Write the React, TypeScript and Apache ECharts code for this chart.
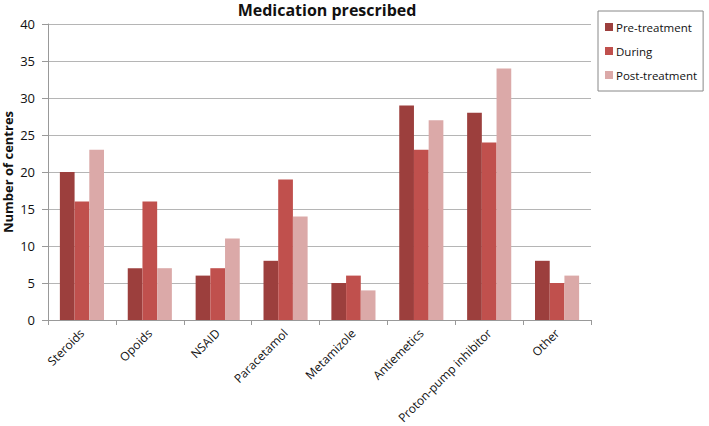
import React, { useEffect, useRef } from "react";
import * as echarts from "echarts";

const categories = ["Steroids", "Opoids", "NSAID", "Paracetamol", "Metamizole", "Antiemetics", "Proton-pump inhibitor", "Other"];
const preTreatment = [20, 7, 6, 8, 5, 29, 28, 8];
const during = [16, 16, 7, 19, 6, 23, 24, 5];
const postTreatment = [23, 7, 11, 14, 4, 27, 34, 6];
const seriesNames = ["Pre-treatment", "During", "Post-treatment"];
const colors = ["#9c3f3d", "#c0504d", "#dba9a8"];

const FONT = "Open Sans";

export default function App() {
  const ref = useRef<HTMLDivElement>(null);
  useEffect(() => {
    const chart = echarts.init(ref.current!, undefined, { renderer: "svg" });
    const data = [preTreatment, during, postTreatment];
    chart.setOption({
      animation: false,
      textStyle: { fontFamily: FONT },
      title: {
        text: "Medication prescribed",
        left: 322,
        textAlign: "center",
        top: -3,
        textStyle: { fontFamily: FONT, fontWeight: "bold", fontSize: 16, color: "#111" },
      },
      legend: {
        orient: "vertical",
        left: 598,
        top: 11,
        padding: [10, 6, 10, 7],
        itemGap: 12,
        itemWidth: 8,
        itemHeight: 8,
        icon: "rect",
        borderColor: "#888",
        borderWidth: 1,
        textStyle: { fontFamily: FONT, fontSize: 11.5, color: "#111", padding: [0, 0, 0, -2] },
        data: seriesNames,
      },
      grid: { left: 48, right: 118, top: 24, bottom: 106, containLabel: false, outerBoundsMode: "none" },
      xAxis: {
        type: "category",
        data: categories,
        axisLine: { lineStyle: { color: "#999" } },
        axisTick: { show: true, alignWithLabel: false, length: 5, lineStyle: { color: "#999" } },
        axisLabel: { rotate: 45, fontFamily: FONT, fontSize: 12, color: "#111", margin: 11, interval: 0 },
      },
      yAxis: {
        type: "value",
        min: 0,
        max: 40,
        interval: 5,
        name: "Number of centres",
        nameLocation: "middle",
        nameGap: 34,
        nameMoveOverlap: false,
        nameRotate: 90,
        nameTextStyle: { fontFamily: FONT, fontWeight: "bold", fontSize: 13, color: "#111" },
        axisLine: { show: true, lineStyle: { color: "#999" } },
        axisTick: { show: true, length: 6, lineStyle: { color: "#999" } },
        axisLabel: { fontFamily: FONT, fontSize: 13, color: "#111", margin: 13 },
        splitLine: { lineStyle: { color: "#b5b5b5" } },
      },
      series: seriesNames.map((name, i) => ({
        name,
        type: "bar",
        data: data[i],
        barGap: "0%",
        barCategoryGap: "35%",
        itemStyle: { color: colors[i] },
      })),
    });
    return () => chart.dispose();
  }, []);
  return <div ref={ref} style={{ width: 709, height: 426, position: "absolute", left: 0, top: 0, background: "#fff" }} />;
}
